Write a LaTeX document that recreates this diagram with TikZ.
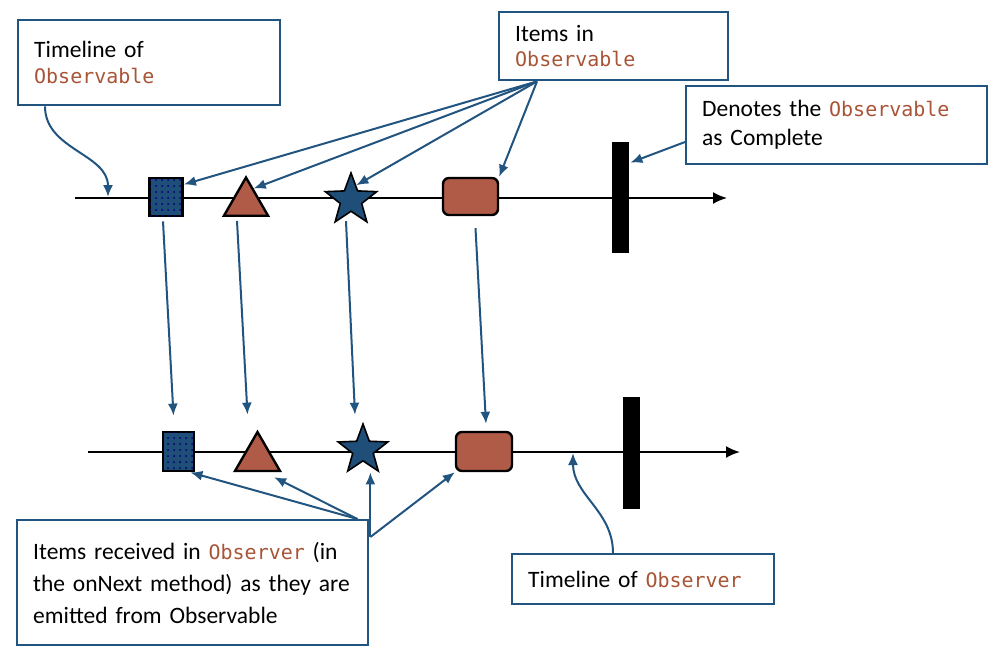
\documentclass[tikz,border=0pt]{standalone}
\usepackage{fontspec}
\setmainfont{Carlito}
\newfontfamily\codefont[Scale=0.85]{DejaVu Sans Mono}
\usepackage{tikz}
\usetikzlibrary{arrows.meta,calc,shapes.geometric,patterns}
\definecolor{linkblue}{RGB}{34,84,128}
\definecolor{itemblue}{RGB}{31,78,121}
\definecolor{itembrown}{RGB}{176,91,72}
\definecolor{codebrown}{RGB}{168,84,54}
\newcommand{\codeword}[1]{{\codefont\color{codebrown}#1}}

\begin{document}
\begin{tikzpicture}[x=0.5pt, y=-0.5pt,
    callout/.style={draw=linkblue, line width=1.2pt, anchor=north west, inner xsep=8pt, inner ysep=2pt, align=left},
    pointer/.style={draw=linkblue, line width=1pt, -{Latex[length=6pt,width=5pt]}},
    timeline/.style={line width=1pt, -{Latex[length=7pt,width=6pt]}},
    sqitem/.style={rectangle, draw, line width=1.4pt, fill=itemblue, postaction={pattern=dots, pattern color=blue!45!black}, inner sep=0pt},
    triitem/.style={regular polygon, regular polygon sides=3, draw, line width=1.2pt, fill=itembrown, inner sep=0pt},
    staritem/.style={star, star points=5, star point ratio=2.4, draw, line width=0.8pt, fill=itemblue, inner sep=0pt},
    rritem/.style={rectangle, rounded corners=3pt, draw, line width=1.2pt, fill=itembrown, inner sep=0pt},
    endbar/.style={rectangle, fill=black, inner sep=0pt, minimum width=8.5pt}]

    \useasboundingbox (0,0) rectangle (1002,660);

    % the two timelines
    \coordinate (line1s) at (75,198);
    \coordinate (line1e) at (727,198);
    \coordinate (line2s) at (88,452);
    \coordinate (line2e) at (740,452);
    \draw [timeline] (line1s) -- (line1e);
    \draw [timeline] (line2s) -- (line2e);

    % items on the Observable
    \node [sqitem, minimum width=16.5pt, minimum height=19pt] (sq1) at (166,197) {};
    \node [triitem, minimum size=25.5pt] (tri1) at (246,203) {};
    \node [staritem, minimum size=27pt] (st1) at (351,200) {};
    \node [rritem, minimum width=27.5pt, minimum height=18.5pt] (rr1) at (470.5,196.5) {};
    \node [endbar, minimum height=55.5pt] (bar1) at (620.5,197.5) {};

    % items on the Observer
    \node [sqitem, minimum width=15.5pt, minimum height=19.5pt] (sq2) at (178.5,451.5) {};
    \node [triitem, minimum size=26pt] (tri2) at (257.5,458) {};
    \node [staritem, minimum size=26pt] (st2) at (363,450) {};
    \node [rritem, minimum width=28pt, minimum height=19.5pt] (rr2) at (484,451.5) {};
    \node [endbar, minimum height=56pt] (bar2) at (631.5,453) {};

    % callouts
    \node [callout, minimum width=131pt, minimum height=42.5pt, text width=115pt, font=\fontsize{11.75}{13}\selectfont] (obstl) at (17,19) {Timeline of\\\codeword{Observable}};
    \node [callout, minimum width=114.5pt, minimum height=34pt, text width=98.5pt, font=\fontsize{11.75}{12.5}\selectfont] (items) at (498,11) {Items in\\\codeword{Observable}};
    \node [callout, minimum width=150.5pt, minimum height=39pt, text width=134.5pt, font=\fontsize{11.75}{14.5}\selectfont] (complete) at (685,85) {Denotes the \codeword{Observable}\\as Complete};
    \node [callout, minimum width=175.5pt, minimum height=62.5pt, text width=159.5pt, font=\fontsize{11.75}{16}\selectfont] (received) at (16,519) {Items received in \codeword{Observer\ }(in\\the onNext method) as they are\\emitted from Observable};
    \node [callout, minimum width=131pt, minimum height=25pt, text width=115pt, font=\fontsize{11.75}{13}\selectfont] (obrtl) at (511,553) {Timeline of \codeword{Observer}};

    % pointers
    \coordinate (itemsrc) at ($(items.south west)+(39,0)$);
    \foreach \t in {sq1.35, tri1.62, st1.70, rr1.north east}
    {
        \draw [pointer] (itemsrc) -- (\t);
    }
    \foreach \a/\b/\i/\j/\k/\l in {sq1/sq2/-3/4/-5/-15, tri1/tri2/-9/4/-10/-15, st1/st2/-5/9/-8/-7, rr1/rr2/5/12/2/-7}
    {
        \draw [pointer] ($(\a.south)+(\i,\j)$) -- ($(\b.north)+(\k,\l)$);
    }
    \draw [pointer] ($(complete.north west)+(0,57)$) -- ($(bar1.north east)+(1,21)$);
    \draw [pointer] ($(obstl.south west)+(28,0)$) to [out=-90, in=90] ($(line1s)+(33,-1)$);
    \draw [pointer] ($(obrtl.north west)+(102,0)$) to [out=90, in=-90] ($(line2s)+(485,1)$);

    \coordinate (recvA) at ($(received.north east)+(-12,0)$);
    \coordinate (recvB) at ($(received.north east)+(1,18)$);
    \draw [pointer] (recvA) -- ($(sq2.south east)+(-5,0)$);
    \draw [pointer] (recvA) -- ($(tri2.corner 3)+(-8,5)$);
    \draw [pointer] (recvB) -- (recvB |- sq2.south);
    \draw [pointer] (recvB) -- (rr2.south west);
\end{tikzpicture}
\end{document}
